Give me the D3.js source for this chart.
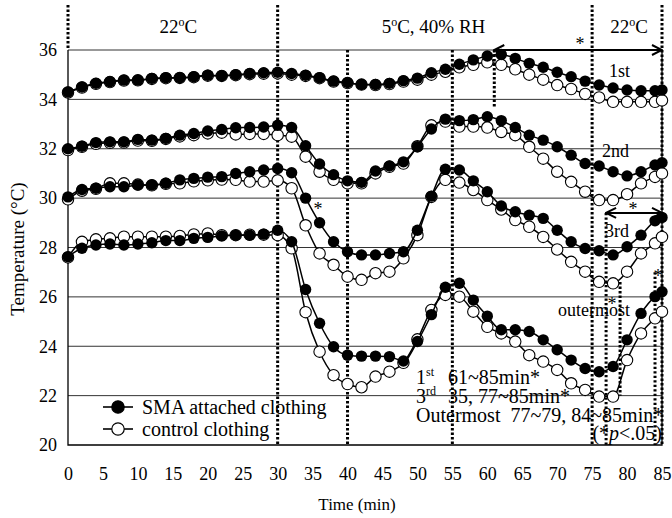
<!DOCTYPE html>
<html>
<head>
<meta charset="utf-8" />
<script src="https://d3js.org/d3.v7.min.js"></script>
<style>
  body { margin: 0; background: #fff; }
  svg text { font-family: "Liberation Serif", "Times New Roman", serif; fill: #000; }
  .grid line { stroke: #333; stroke-width: 1; }
  .dots { stroke: #000; stroke-width: 3; stroke-dasharray: 2.4, 2.1; fill: none; }
  .series { fill: none; stroke: #000; stroke-width: 1.5; }
</style>
</head>
<body>
<script>

// time points (min)
var time = [0,2,4,6,8,10,12,14,16,18,20,22,24,26,28,30,32,34,36,38,40,42,44,46,48,50,52,54,56,58,60,62,64,66,68,70,72,74,76,78,80,82,84,85];

// SMA attached clothing, layer temps (°C)
var sma1st = [34.3,34.5,34.65,34.72,34.78,34.78,34.85,34.88,34.88,34.92,34.98,34.96,35.0,35.05,35.08,35.1,
  35.05,34.98,34.88,34.74,34.68,34.6,34.6,34.65,34.76,34.86,
  35.08,35.22,35.42,35.6,35.76,35.82,35.66,35.46,35.3,35.1,34.92,34.74,34.58,34.46,34.38,34.35,34.35,34.38];
var sma2nd = [32.0,32.1,32.25,32.28,32.28,32.38,32.35,32.42,32.55,32.62,32.72,32.78,32.85,32.86,32.88,32.95,
  32.86,32.12,31.38,30.95,30.7,30.64,31.1,31.3,31.47,32.08,
  32.8,33.2,33.14,33.18,33.3,33.14,32.86,32.55,32.35,32.08,31.74,31.4,31.3,31.07,30.9,31.07,31.34,31.43];
var sma3rd = [30.05,30.35,30.4,30.46,30.46,30.53,30.53,30.6,30.74,30.8,30.85,30.87,31.0,31.07,31.14,31.2,
  31.03,30.0,29.0,28.23,27.83,27.7,27.7,27.76,27.83,28.7,
  30.08,31.17,31.14,30.7,30.26,29.68,29.45,29.31,29.18,28.7,28.23,27.96,27.87,27.7,28.03,28.5,29.08,29.22];
var smaOut = [27.63,27.97,28.1,28.14,28.1,28.14,28.19,28.28,28.28,28.37,28.41,28.47,28.5,28.5,28.54,28.7,
  28.23,26.3,24.93,23.98,23.64,23.6,23.6,23.58,23.4,24.19,
  25.28,26.39,26.55,25.87,25.22,24.67,24.67,24.6,24.26,23.86,23.44,23.1,22.97,23.18,24.26,25.33,26.01,26.21];

// control clothing
var ctl1st = [34.28,34.48,34.63,34.7,34.76,34.77,34.83,34.86,34.87,34.9,34.96,34.95,34.98,35.02,35.04,35.05,
  35.0,34.95,34.86,34.72,34.66,34.6,34.58,34.62,34.72,34.8,
  35.0,35.12,35.3,35.4,35.5,35.4,35.22,35.0,34.8,34.58,34.42,34.22,34.08,33.9,33.9,33.9,33.9,33.96];
var ctl2nd = [31.95,32.08,32.2,32.24,32.25,32.33,32.32,32.4,32.5,32.55,32.62,32.65,32.58,32.6,32.6,32.55,
  32.49,31.68,31.07,30.74,30.6,30.6,31.0,31.27,31.4,32.1,
  32.95,33.1,32.9,32.9,32.86,32.68,32.55,32.08,31.6,31.07,30.66,30.26,29.92,29.92,30.16,30.6,30.86,31.0];
var ctl3rd = [29.95,30.3,30.38,30.6,30.6,30.55,30.52,30.58,30.6,30.68,30.72,30.75,30.74,30.67,30.67,30.72,
  30.4,28.9,27.76,27.3,26.82,26.69,26.96,27.02,27.56,28.5,
  30.05,30.74,30.63,30.33,29.92,29.54,29.11,28.84,28.43,27.92,27.42,27.02,26.61,26.55,27.02,27.76,28.17,28.43];
var ctlOut = [27.6,28.23,28.33,28.37,28.44,28.44,28.44,28.44,28.47,28.53,28.57,28.5,28.5,28.52,28.52,28.5,
  27.97,25.38,23.78,22.83,22.47,22.34,22.77,22.97,23.33,24.28,
  25.47,26.08,26.01,25.4,24.79,24.52,24.19,23.64,23.38,23.04,22.5,22.23,21.96,21.96,23.44,24.52,25.13,25.4];

var xTicks = [0,5,10,15,20,25,30,35,40,45,50,55,60,65,70,75,80,85];
var yTicks = [20,22,24,26,28,30,32,34,36];

var W = 672, H = 518;
var pL = 68, pR = 662, pT = 50, pB = 445;

var x = d3.scaleLinear().domain([0, 85]).range([pL, pR]);
var y = d3.scaleLinear().domain([20, 36]).range([pB, pT]);

var svg = d3.select("body").append("svg")
    .attr("width", W)
    .attr("height", H);

// horizontal grid
svg.append("g").attr("class", "grid")
  .selectAll("line")
  .data(yTicks.slice(1))
  .enter().append("line")
    .attr("x1", pL).attr("x2", pR)
    .attr("y1", function(d){ return y(d); })
    .attr("y2", function(d){ return y(d); });

// frame
svg.append("path")
    .attr("d", "M" + pL + "," + pT + "V" + pB + "H" + pR + "V" + pT)
    .attr("fill", "none").attr("stroke", "#000").attr("stroke-width", 1.3);

// dotted time markers: [t, from value (null = above plot), to value]
var vlines = [
  [0, null, 36],
  [30, null, 20], [40, 36, 20], [55, 36, 20], [61, 36, 33.7],
  [75, null, 20], [77, 29.4, 20], [79, 26.6, 22.0], [84, 27.0, 20], [85, null, 20]
];
svg.append("g").selectAll("line")
  .data(vlines)
  .enter().append("line")
    .attr("class", "dots")
    .attr("x1", function(d){ return x(d[0]); })
    .attr("x2", function(d){ return x(d[0]); })
    .attr("y1", function(d){ return d[1] === null ? 5 : y(d[1]); })
    .attr("y2", function(d){ return y(d[2]); });

// axes
var yAxis = svg.append("g")
    .attr("transform", "translate(" + pL + ",0)")
    .call(d3.axisLeft(y).tickValues(yTicks).tickSize(0).tickPadding(11));
var xAxis = svg.append("g")
    .attr("transform", "translate(0," + pB + ")")
    .call(d3.axisBottom(x).tickValues(xTicks).tickSize(0).tickPadding(22));
[xAxis, yAxis].forEach(function(a){
  a.select(".domain").remove();
  a.selectAll("text").style("font-size", "18px")
    .style("font-family", '"Liberation Serif", serif').attr("fill", "#000");
});

svg.append("text")
    .attr("x", 357).attr("y", 510)
    .attr("text-anchor", "middle")
    .style("font-size", "17px")
    .text("Time (min)");
svg.append("text")
    .attr("transform", "translate(24,249) rotate(-90)")
    .attr("text-anchor", "middle")
    .style("font-size", "19px")
    .text("Temperature (°C)");

// series
var layers = [
  { sma: sma1st, ctl: ctl1st },
  { sma: sma2nd, ctl: ctl2nd },
  { sma: sma3rd, ctl: ctl3rd },
  { sma: smaOut, ctl: ctlOut }
];
var line = d3.line()
    .x(function(d, i){ return x(time[i]); })
    .y(function(d){ return y(d); })
    .curve(d3.curveMonotoneX);

var r = 5.7;
layers.forEach(function(L){
  var g = svg.append("g");
  g.append("path").attr("class", "series").attr("d", line(L.ctl));
  g.selectAll("circle.c").data(L.ctl).enter().append("circle")
    .attr("class", "c")
    .attr("cx", function(d, i){ return x(time[i]); })
    .attr("cy", function(d){ return y(d); })
    .attr("r", r)
    .attr("fill", "#fff").attr("stroke", "#000").attr("stroke-width", 1.1);
  g.append("path").attr("class", "series").attr("d", line(L.sma));
  g.selectAll("circle.s").data(L.sma).enter().append("circle")
    .attr("class", "s")
    .attr("cx", function(d, i){ return x(time[i]); })
    .attr("cy", function(d){ return y(d); })
    .attr("r", r)
    .attr("fill", "#000");
});

// condition labels
function degLabel(cx, txt1, txt2) {
  var t = svg.append("text").attr("x", cx).attr("y", 33)
    .attr("text-anchor", "middle").style("font-size", "19px");
  t.append("tspan").text(txt1);
  t.append("tspan").attr("dy", -7).style("font-size", "12px").text("o");
  t.append("tspan").attr("dy", 7).text(txt2);
}
degLabel(x(15.8), "22", "C");
degLabel(x(52.3), "5", "C, 40% RH");
degLabel(x(80.3), "22", "C");

// arrows
svg.append("defs").append("marker")
    .attr("id", "arr")
    .attr("viewBox", "0 0 12 12")
    .attr("refX", 11).attr("refY", 6)
    .attr("markerWidth", 12).attr("markerHeight", 12)
    .attr("markerUnits", "userSpaceOnUse")
    .attr("orient", "auto-start-reverse")
  .append("path")
    .attr("d", "M1,1 L11,6 L1,11")
    .attr("fill", "none").attr("stroke", "#000").attr("stroke-width", 2);

function arrow(t0, t1, v) {
  svg.append("line")
    .attr("x1", x(t0)).attr("x2", x(t1))
    .attr("y1", y(v)).attr("y2", y(v))
    .attr("stroke", "#000").attr("stroke-width", 2)
    .attr("marker-start", "url(#arr)").attr("marker-end", "url(#arr)");
}
arrow(61, 85, 36);
arrow(77, 85, 29.4);

function label(px, py, txt, size, anchor) {
  return svg.append("text").attr("x", px).attr("y", py)
    .attr("text-anchor", anchor || "start")
    .style("font-size", (size || 18) + "px").text(txt);
}
label(580, 50, "*", 18, "middle");
label(633, 215, "*", 18, "middle");
label(318, 215, "*", 18, "middle");
label(658, 282, "*", 18, "middle");
label(612, 310, "*", 18, "middle");

label(609, 77, "1st", 18);
label(602, 157, "2nd", 18);
label(605, 237, "3rd", 18);
label(558, 316, "outermost", 18);

// significance notes
function ordinal(px, py, num, sup, rest, restX) {
  var t = svg.append("text").attr("x", px).attr("y", py).style("font-size", "20px");
  t.append("tspan").text(num);
  t.append("tspan").attr("dy", -8).style("font-size", "12px").text(sup);
  svg.append("text").attr("x", restX).attr("y", py).style("font-size", "20px").text(rest);
}
ordinal(416, 384, "1", "st", "61~85min*", 448);
ordinal(416, 403, "3", "rd", "35, 77~85min*", 448);
label(416, 422, "Outermost  77~79, 84~85min*", 20).style("white-space", "pre");
var pt = svg.append("text").attr("x", 662).attr("y", 440)
    .attr("text-anchor", "end").style("font-size", "20px");
pt.append("tspan").text("(*");
pt.append("tspan").style("font-style", "italic").text("p");
pt.append("tspan").text("<.05)");

// legend
var legend = [
  { name: "SMA attached clothing", fill: "#000", ly: 407 },
  { name: "control clothing", fill: "#fff", ly: 429 }
];
legend.forEach(function(d){
  svg.append("line").attr("x1", 103).attr("x2", 133)
    .attr("y1", d.ly).attr("y2", d.ly)
    .attr("stroke", "#000").attr("stroke-width", 1.6);
  svg.append("circle").attr("cx", 118).attr("cy", d.ly).attr("r", 6.2)
    .attr("fill", d.fill).attr("stroke", "#000").attr("stroke-width", 1.2);
  label(142, d.ly + 7, d.name, 20);
});

</script>
</body>
</html>
